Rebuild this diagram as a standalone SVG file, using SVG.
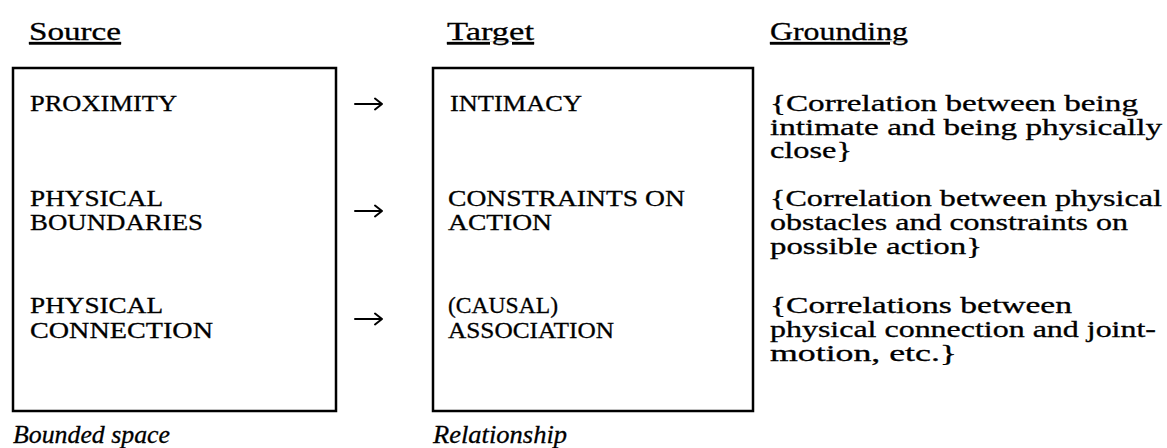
<svg xmlns="http://www.w3.org/2000/svg" width="1167" height="448" viewBox="0 0 1167 448">
  <style>
    text { font-family: "Liberation Serif", "Times New Roman", serif; font-size: 26px; fill: #000; stroke: #000; stroke-width: 0.3; }
    .head { text-decoration: underline; }
    .caps { font-size: 24px; }
    .note { font-size: 23px; }
    .cap { font-style: italic; }
    .box { fill: none; stroke: #000; stroke-width: 2.5; }
    .arrow { fill: none; stroke: #000; stroke-width: 2; stroke-linecap: round; stroke-linejoin: round; }
  </style>

  <!-- column headings -->
  <g id="headings">
    <text class="head" x="29" y="40" textLength="92" lengthAdjust="spacingAndGlyphs">Source</text>
    <text class="head" x="447" y="40" textLength="87" lengthAdjust="spacingAndGlyphs">Target</text>
    <text class="head" x="770" y="40" textLength="138" lengthAdjust="spacingAndGlyphs">Grounding</text>
  </g>

  <!-- source domain -->
  <g id="source">
    <rect class="box" x="13" y="68" width="323" height="343"/>
    <text class="caps" x="30" y="111" textLength="147" lengthAdjust="spacingAndGlyphs">PROXIMITY</text>
    <text class="caps" x="30" y="206" textLength="133" lengthAdjust="spacingAndGlyphs">PHYSICAL</text>
    <text class="caps" x="30" y="230" textLength="173" lengthAdjust="spacingAndGlyphs">BOUNDARIES</text>
    <text class="caps" x="30" y="313" textLength="133" lengthAdjust="spacingAndGlyphs">PHYSICAL</text>
    <text class="caps" x="30" y="338" textLength="183" lengthAdjust="spacingAndGlyphs">CONNECTION</text>
    <text class="cap" x="13" y="443" textLength="157" lengthAdjust="spacingAndGlyphs">Bounded space</text>
  </g>

  <!-- target domain -->
  <g id="target">
    <rect class="box" x="433" y="68" width="320" height="343"/>
    <text class="caps" x="450" y="111" textLength="132" lengthAdjust="spacingAndGlyphs">INTIMACY</text>
    <text class="caps" x="448" y="206" textLength="237" lengthAdjust="spacingAndGlyphs">CONSTRAINTS ON</text>
    <text class="caps" x="448" y="230" textLength="104" lengthAdjust="spacingAndGlyphs">ACTION</text>
    <text class="caps" x="448" y="313" textLength="110" lengthAdjust="spacingAndGlyphs">(CAUSAL)</text>
    <text class="caps" x="448" y="338" textLength="166" lengthAdjust="spacingAndGlyphs">ASSOCIATION</text>
    <text class="cap" x="433" y="443" textLength="134" lengthAdjust="spacingAndGlyphs">Relationship</text>
  </g>

  <!-- grounding notes -->
  <g id="grounding">
    <text class="note" x="770" y="111" textLength="368" lengthAdjust="spacingAndGlyphs">{Correlation between being</text>
    <text class="note" x="770" y="135" textLength="392" lengthAdjust="spacingAndGlyphs">intimate and being physically</text>
    <text class="note" x="770" y="158" textLength="82" lengthAdjust="spacingAndGlyphs">close}</text>
    <text class="note" x="770" y="206" textLength="392" lengthAdjust="spacingAndGlyphs">{Correlation between physical</text>
    <text class="note" x="770" y="230" textLength="358" lengthAdjust="spacingAndGlyphs">obstacles and constraints on</text>
    <text class="note" x="770" y="254" textLength="212" lengthAdjust="spacingAndGlyphs">possible action}</text>
    <text class="note" x="770" y="313" textLength="302" lengthAdjust="spacingAndGlyphs">{Correlations  between</text>
    <text class="note" x="770" y="337" textLength="386" lengthAdjust="spacingAndGlyphs">physical connection and joint-</text>
    <text class="note" x="770" y="361" textLength="187" lengthAdjust="spacingAndGlyphs">motion, etc.}</text>
  </g>

  <!-- mapping arrows -->
  <g id="connectors">
    <path class="arrow" d="M355,104 H382 M375,98.5 L382,104 L375,109.5"/>
    <path class="arrow" d="M355,211 H382 M375,205.5 L382,211 L375,216.5"/>
    <path class="arrow" d="M355,319 H382 M375,313.5 L382,319 L375,324.5"/>
  </g>
</svg>
